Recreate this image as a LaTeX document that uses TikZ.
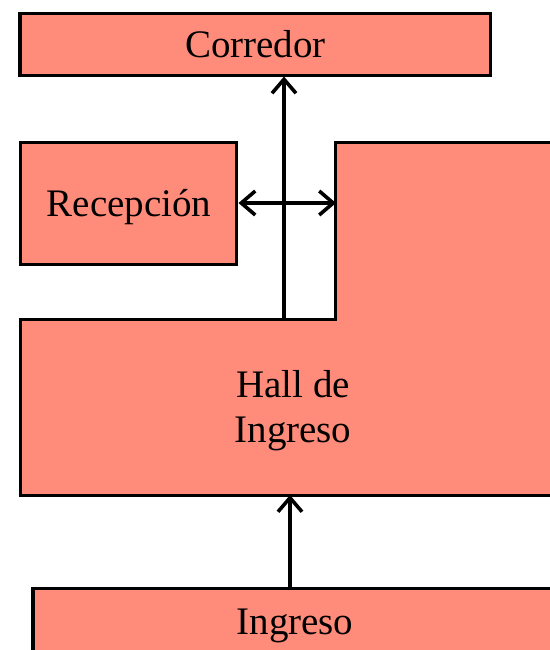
\documentclass[tikz,border=0pt]{standalone}
\usepackage{fontspec}
\setmainfont{Liberation Serif}
\usetikzlibrary{arrows.meta,positioning}
\definecolor{salmon}{RGB}{255,140,122}
\begin{document}
\begin{tikzpicture}[x=0.5pt,y=-0.5pt,
  room/.style={draw,line width=1.5pt,fill=salmon,inner sep=0pt,text depth=0pt,font=\fontsize{19.5}{22.5}\selectfont},
  flow/.style={line width=1.8pt,-{Straight Barb[length=7pt,width=12pt]}},
  both/.style={line width=1.8pt,{Straight Barb[length=7pt,width=12pt]}-{Straight Barb[length=7pt,width=12pt]}}]
\useasboundingbox (0,0) rectangle (550,650);
\clip (0,0) rectangle (550,650);
\node[room,minimum width=235.5pt,minimum height=31pt](corredor) at (255.5,44) {Corredor};
\node[room,minimum width=108pt,minimum height=61pt](recepcion) at (129,203) {Recepción};
\coordinate (notch) at (336,142);
\coordinate (hallup) at (284,319);
\coordinate (halldown) at (290,495);
\draw[line width=1.5pt,fill=salmon] (21,319)--(notch |- 0,319)--(notch)--(580,142)--(580,495)--(21,495)--cycle;
\node[align=center,font=\fontsize{19.5}{22.5}\selectfont](hall) at (293,411) {Hall de\\Ingreso};
\node[room,minimum width=262pt,minimum height=34pt](ingreso) at (295,622) {Ingreso};
\draw[flow](hallup)--(hallup |- corredor.south);
\draw[both](recepcion.east)--(recepcion.east -| notch);
\draw[flow](ingreso.north -| halldown)--(halldown);
\end{tikzpicture}
\end{document}
